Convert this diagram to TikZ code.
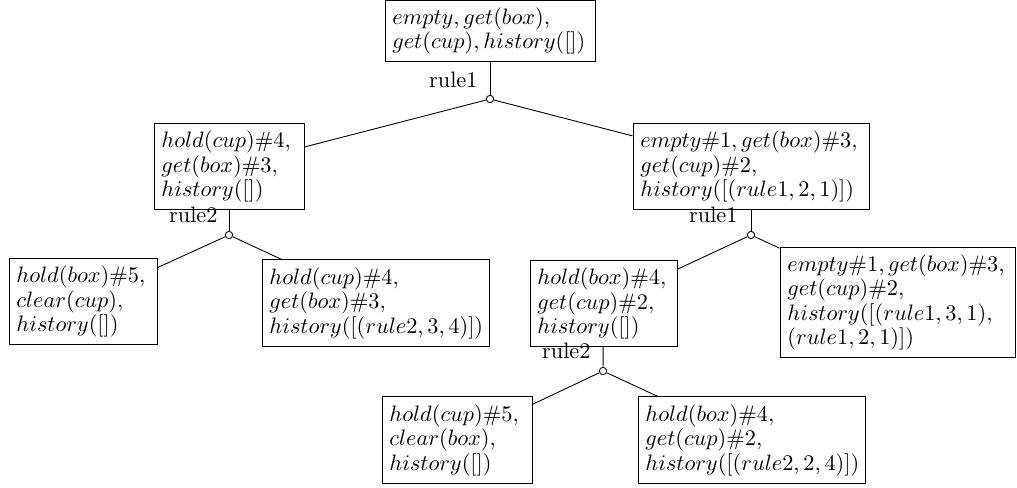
\documentclass[tikz,border=0pt]{standalone}
\begin{document}
\begin{tikzpicture}[x=0.448pt,y=-0.448pt,
  state/.style={draw,line width=0.4pt,inner sep=3.33pt,align=left,
    font=\fontsize{10}{11}\selectfont},
  branch/.style={draw,line width=0.4pt,circle,fill=white,inner sep=0pt,minimum size=3.3pt},
  rulelabel/.style={inner sep=0pt,anchor=base east,font=\fontsize{10}{12}\selectfont},
  link/.style={line width=0.4pt}]
\useasboundingbox (0,0) rectangle (1017,487);

% states
\node[state,text width=87.4pt] (root) at (490,31)
  {$empty, get(box),$\\ $get(cup), history([])$};
\node[state,text width=60.5pt] (a) at (229,166.5)
  {$hold(cup)\#4,$\\ $get(box)\#3,$\\ $history([])$};
\node[state,text width=99.1pt] (b) at (751,166.5)
  {$empty\#1, get(box)\#3,$\\ $get(cup)\#2,$\\ $history([(rule1,2,1)])$};
\node[state,text width=59.6pt] (a1) at (83,301.5)
  {$hold(box)\#5,$\\ $clear(cup),$\\ $history([])$};
\node[state,text width=95pt] (a2) at (375.5,303)
  {$hold(cup)\#4,$\\ $get(box)\#3,$\\ $history([(rule2,3,4)])$};
\node[state,text width=59.2pt] (b1) at (603.5,303.5)
  {$hold(box)\#4,$\\ $get(cup)\#2,$\\ $history([])$};
\node[state,text width=98.6pt] (b2) at (897.5,302.5)
  {$empty\#1, get(box)\#3,$\\ $get(cup)\#2,$\\ $history([(rule1,3,1),$\\ $(rule1,2,1)])$};
\node[state,text width=60.5pt] (c1) at (457,440)
  {$hold(cup)\#5,$\\ $clear(box),$\\ $history([])$};
\node[state,text width=95pt] (c2) at (751.5,440)
  {$hold(box)\#4,$\\ $get(cup)\#2,$\\ $history([(rule2,2,4)])$};

% branching points
\node[branch] (k0) at (490,99) {};
\node[branch] (ka) at (229,235) {};
\node[branch] (kb) at (751,235) {};
\node[branch] (kb1) at (603,371) {};

% rule labels
\node[rulelabel] (r0) at (478,87) {rule1};
\node[rulelabel] (ra) at (218,222) {rule2};
\node[rulelabel] (rb) at (738,222) {rule1};
\node[rulelabel] (rb1) at (591,358) {rule2};

% connectors
\draw[link] (root) -- (k0);
\draw[link] (k0) -- (a);
\draw[link] (k0) -- (b);
\draw[link] (a) -- (ka);
\draw[link] (ka) -- (a1);
\draw[link] (ka) -- (a2);
\draw[link] (b) -- (kb);
\draw[link] (kb) -- (b1);
\draw[link] (kb) -- (b2);
\draw[link] (b1) -- (kb1);
\draw[link] (kb1) -- (c1);
\draw[link] (kb1) -- (c2);
\end{tikzpicture}
\end{document}
